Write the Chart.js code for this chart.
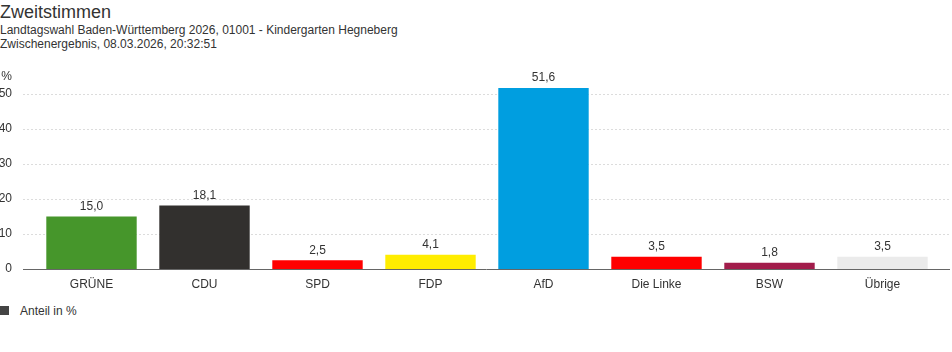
<!DOCTYPE html>
<html>
<head>
<meta charset="utf-8">
<script src="https://cdn.jsdelivr.net/npm/chart.js@4"></script>
<style>
  html, body { margin: 0; padding: 0; background: #fff; }
  body { width: 952px; height: 352px; position: relative; overflow: hidden;
         font-family: "Liberation Sans", Arial, Helvetica, sans-serif; color: #333; }
  #title { position: absolute; left: 0; top: 2px; font-size: 18px; line-height: 20px; color: #333; }
  #sub { position: absolute; left: 0; top: 23px; font-size: 12px; line-height: 14px; color: #333; }
  #wrap { position: absolute; left: 0; top: 46px; width: 952px; height: 254px; }
  #legend { position: absolute; left: 0; top: 304px; font-size: 12px; line-height: 14px; color: #333; }
  #legend .box { position: absolute; left: 0; top: 2px; width: 9px; height: 9px; background: #444; }
  #legend .txt { position: absolute; left: 20px; top: 0; white-space: nowrap; }
</style>
</head>
<body>
<div id="title">Zweitstimmen</div>
<div id="sub">Landtagswahl Baden-Württemberg 2026, 01001 - Kindergarten Hegneberg<br>Zwischenergebnis, 08.03.2026, 20:32:51</div>
<div id="wrap"><canvas id="c" width="952" height="254"></canvas></div>
<div id="legend"><span class="box"></span><span class="txt">Anteil in %</span></div>
<script>
const categories = ["GRÜNE", "CDU", "SPD", "FDP", "AfD", "Die Linke", "BSW", "Übrige"];
const values = [15.0, 18.1, 2.5, 4.1, 51.6, 3.5, 1.8, 3.5];
const colors = ["#46962b", "#32302e", "#ff0000", "#ffed00", "#009ee0", "#ff0000", "#a21d4b", "#ebebeb"];
const yTicks = [0, 10, 20, 30, 40, 50];
const yMax = 55;
const unitLabel = "%";
const seriesName = "Anteil in %";

const fmt = v => v.toFixed(1).replace('.', ',');

const gridPlugin = {
  id: 'customGrid',
  beforeDatasetsDraw(chart) {
    const ctx = chart.ctx, y = chart.scales.y, a = chart.chartArea;
    const x0 = a.left - 12, x1 = chart.width - 2;
    ctx.save();
    ctx.strokeStyle = '#dcdcdc';
    ctx.lineWidth = 1;
    ctx.setLineDash([2, 2]);
    yTicks.forEach(v => {
      if (v === 0) return;
      const py = Math.round(y.getPixelForValue(v)) + 0.5;
      ctx.beginPath(); ctx.moveTo(x0, py); ctx.lineTo(x1, py); ctx.stroke();
    });
    ctx.restore();
  },
  afterDatasetsDraw(chart) {
    const ctx = chart.ctx, y = chart.scales.y, a = chart.chartArea;
    ctx.save();
    ctx.strokeStyle = '#666';
    ctx.lineWidth = 1;
    const py = Math.round(y.getPixelForValue(0)) + 0.5;
    ctx.beginPath(); ctx.moveTo(a.left - 12, py); ctx.lineTo(chart.width - 2, py); ctx.stroke();
    ctx.fillStyle = '#333';
    ctx.font = '12px "Liberation Sans", Arial, sans-serif';
    ctx.textAlign = 'center';
    ctx.textBaseline = 'bottom';
    chart.getDatasetMeta(0).data.forEach((bar, i) => {
      ctx.fillText(fmt(values[i]), bar.x, bar.y - 4);
    });
    ctx.restore();
  }
};

new Chart(document.getElementById('c'), {
  type: 'bar',
  data: {
    labels: categories,
    datasets: [{
      label: seriesName,
      data: values,
      backgroundColor: colors,
      borderWidth: 0,
      barPercentage: 0.8,
      categoryPercentage: 1.0
    }]
  },
  options: {
    responsive: false,
    animation: false,
    devicePixelRatio: 1,
    layout: { padding: { top: 0, right: 13, left: 0, bottom: 0 } },
    plugins: { legend: { display: false }, title: { display: false }, tooltip: { enabled: false } },
    scales: {
      x: {
        grid: { display: false, drawTicks: false },
        border: { display: false },
        ticks: { color: '#333', font: { size: 12, family: '"Liberation Sans", Arial, sans-serif' }, padding: 8, maxRotation: 0 },
        afterFit(s) { s.height = 31; }
      },
      y: {
        min: 0,
        max: yMax,
        grid: { display: false, drawTicks: false },
        border: { display: false },
        afterBuildTicks(s) { s.ticks = yTicks.map(v => ({ value: v })).concat([{ value: yMax }]); },
        ticks: {
          color: '#333',
          font: { size: 12, family: '"Liberation Sans", Arial, sans-serif' },
          padding: 23,
          callback: v => (v === yMax ? unitLabel : String(v))
        },
        afterFit(s) { s.width = 35; }
      }
    }
  },
  plugins: [gridPlugin]
});
</script>
</body>
</html>
